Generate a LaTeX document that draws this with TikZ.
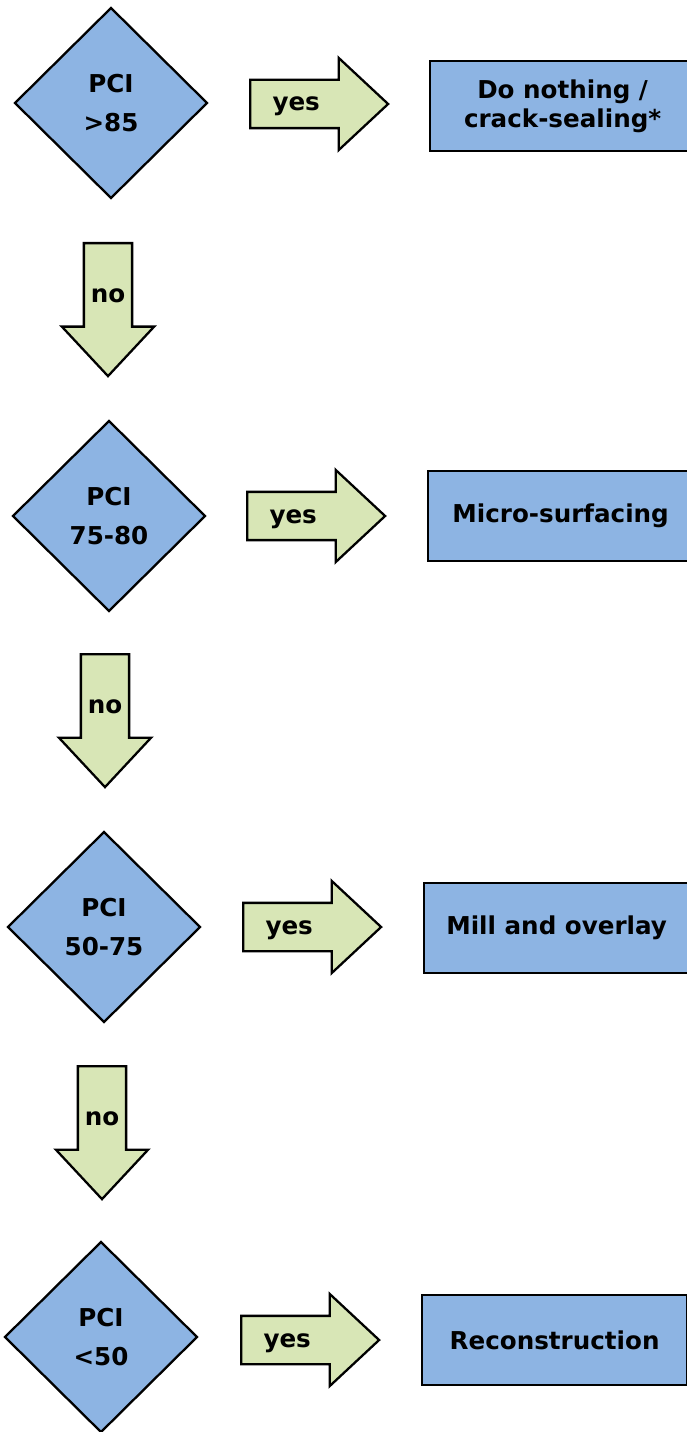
\documentclass[tikz,border=0pt]{standalone}
\usepackage{fontspec}
\setmainfont{DejaVu Sans}
\usetikzlibrary{shapes.geometric,shapes.arrows}

\definecolor{pciblue}{RGB}{141,180,227}
\definecolor{pcigreen}{RGB}{216,230,182}

\tikzstyle{decision}=[diamond, draw=black, fill=pciblue, line width=1.3pt, inner sep=0pt, minimum width=3.86cm, minimum height=3.82cm, align=center, font=\bfseries\fontsize{14}{22}\selectfont]
\tikzstyle{action}=[rectangle, draw=black, fill=pciblue, line width=1.3pt, anchor=west, minimum width=5.3cm, minimum height=1.8cm, align=center, font=\bfseries\fontsize{14}{16.5}\selectfont]
\tikzstyle{yesarrow}=[single arrow, draw=black, fill=pcigreen, line width=1.3pt, anchor=tail, inner sep=0pt, text height=0.6cm, text depth=0.32cm, single arrow head extend=0.44cm, single arrow tip angle=86, minimum height=2.76cm, font=\bfseries\fontsize{14}{17}\selectfont]
\tikzstyle{noarrow}=[yesarrow, shape border rotate=270, text width=0.92cm, align=center, text height=0.35cm, text depth=0.1cm, minimum height=2.66cm]

\begin{document}
\begin{tikzpicture}[x=0.02cm, y=-0.02cm]
    \useasboundingbox (0,0) rectangle (686,1432);

    \node[decision] (pci85) at (111,103) {PCI\\>85};
    \node[yesarrow] (yes1) at (249,104) {\hspace*{-0.4cm}yes};
    \node[action] (nothing) at (429,106) {Do nothing /\\crack-sealing*};
    \node[noarrow] (no1) at (108,242) {no};

    \node[decision] (pci75) at (109,516) {PCI\\75-80};
    \node[yesarrow] (yes2) at (246,516) {\hspace*{-0.4cm}yes};
    \node[action] (micro) at (427,516) {Micro-surfacing};
    \node[noarrow] (no2) at (105,653) {no};

    \node[decision] (pci50) at (104,927) {PCI\\50-75};
    \node[yesarrow] (yes3) at (242,927) {\hspace*{-0.4cm}yes};
    \node[action] (mill) at (423,928) {Mill and overlay};
    \node[noarrow] (no3) at (102,1065) {no};

    \node[decision] (pcilow) at (101,1337) {PCI\\<50};
    \node[yesarrow] (yes4) at (240,1340) {\hspace*{-0.4cm}yes};
    \node[action] (recon) at (421,1340) {Reconstruction};
\end{tikzpicture}
\end{document}
